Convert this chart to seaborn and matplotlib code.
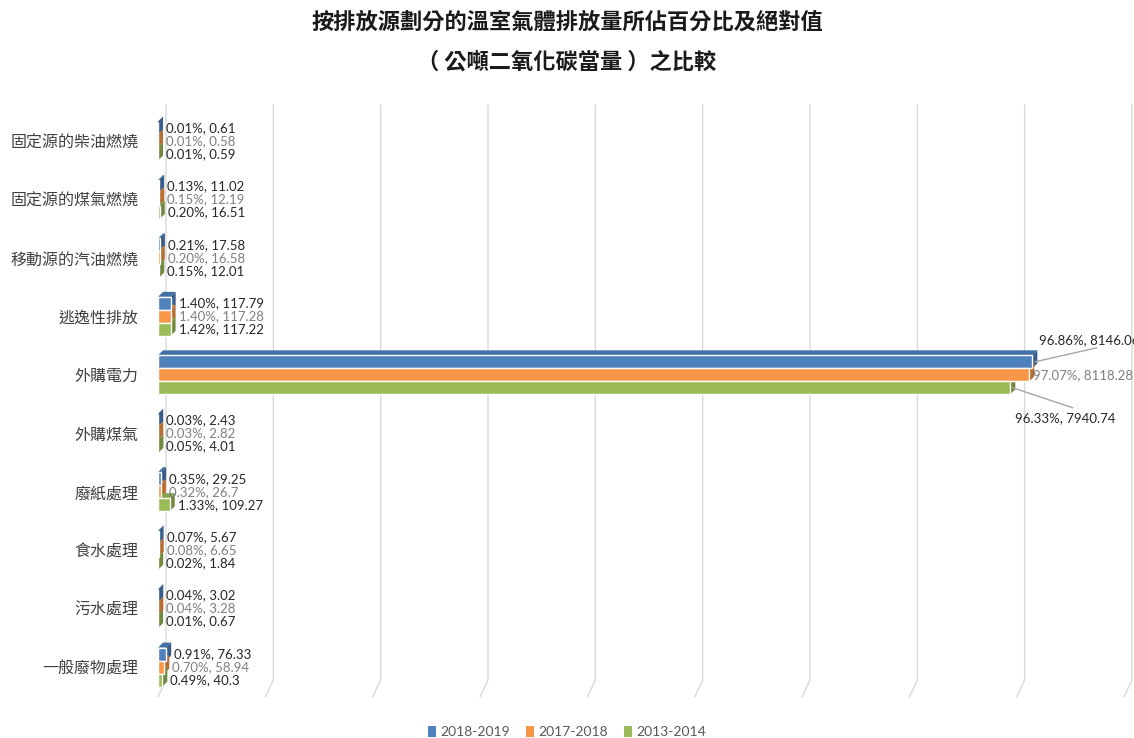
import numpy as np
import pandas as pd
import matplotlib
matplotlib.use("Agg")
import matplotlib.pyplot as plt
import seaborn as sns
from matplotlib.patches import Polygon, Patch

# --- data ---
categories = ['固定源的柴油燃燒', '固定源的煤氣燃燒', '移動源的汽油燃燒', '逃逸性排放', '外購電力',
              '外購煤氣', '廢紙處理', '食水處理', '污水處理', '一般廢物處理']
years = ['2018-2019', '2017-2018', '2013-2014']

values_1819 = [0.61, 11.02, 17.58, 117.79, 8146.06, 2.43, 29.25, 5.67, 3.02, 76.33]
values_1718 = [0.58, 12.19, 16.58, 117.28, 8118.28, 2.82, 26.7, 6.65, 3.28, 58.94]
values_1314 = [0.59, 16.51, 12.01, 117.22, 7940.74, 4.01, 109.27, 1.84, 0.67, 40.3]

pct_1819 = ['0.01%', '0.13%', '0.21%', '1.40%', '96.86%', '0.03%', '0.35%', '0.07%', '0.04%', '0.91%']
pct_1718 = ['0.01%', '0.15%', '0.20%', '1.40%', '97.07%', '0.03%', '0.32%', '0.08%', '0.04%', '0.70%']
pct_1314 = ['0.01%', '0.20%', '0.15%', '1.42%', '96.33%', '0.05%', '1.33%', '0.02%', '0.01%', '0.49%']

grid_ticks = [0, 1000, 2000, 3000, 4000, 5000, 6000, 7000, 8000, 9000]

values = [values_1819, values_1718, values_1314]
pcts = [pct_1819, pct_1718, pct_1314]

df = pd.DataFrame({
    'category': categories * 3,
    'year': [y for y in years for _ in categories],
    'value': values_1819 + values_1718 + values_1314,
})

front_colors = ['#4F81BD', '#F79646', '#9BBB59']
side_colors = ['#385D8A', '#B66D31', '#71893F']
top_colors = ['#416FA6', '#D98240', '#86A34B']
label_colors = ['#262626', '#7F7F7F', '#262626']

# --- figure ---
sns.set_theme(style="white")
plt.rcParams['font.family'] = ['Noto Sans CJK TC', 'DejaVu Sans']

fig = plt.figure(figsize=(11.34, 7.38), dpi=100)
ax_w_px, ax_h_px = 966, 592
ax = fig.add_axes([158 / 1134, 41 / 738, ax_w_px / 1134, ax_h_px / 738])

sns.barplot(data=df, x='value', y='category', hue='year', hue_order=years,
            palette=front_colors, orient='h', width=0.667, gap=0,
            saturation=1, errorbar=None, legend=False, ax=ax, zorder=3)

xmax = 9000
ytop, ybot = -0.616, 9.512
ax.set_xlim(0, xmax)
ax.set_ylim(ybot, ytop)

px_x = xmax / ax_w_px            # data units per pixel (x)
px_y = (ybot - ytop) / ax_h_px   # data units per pixel (y)

# 3D-ish gridlines: back wall + slanted floor
gdx = 8 * px_x
y_back = ybot - 17 * px_y
for t in grid_ticks:
    ax.plot([t + gdx, t + gdx, t], [ytop, y_back, ybot], color='#D9D9D9',
            lw=1, zorder=0, clip_on=False)

# bar depth faces
dx, dy = 5 * px_x, 5 * px_y
for i, cont in enumerate(ax.containers):
    for bar in cont:
        w = bar.get_width()
        y0 = bar.get_y()
        h = bar.get_height()
        top = Polygon([(0, y0), (dx, y0 - dy), (w + dx, y0 - dy), (w, y0)],
                      closed=True, facecolor=top_colors[i], edgecolor='none', zorder=2)
        side = Polygon([(w, y0), (w + dx, y0 - dy), (w + dx, y0 + h - dy), (w, y0 + h)],
                       closed=True, facecolor=side_colors[i], edgecolor='none', zorder=2)
        ax.add_patch(top)
        ax.add_patch(side)

# data labels
big = int(np.argmax(values_1819))
for i, cont in enumerate(ax.containers):
    for j, bar in enumerate(cont):
        w = bar.get_width()
        yc = bar.get_y() + bar.get_height() / 2
        txt = f"{pcts[i][j]}, {values[i][j]}"
        kw = dict(fontsize=9.5, family=['Lato', 'DejaVu Sans'], color=label_colors[i],
                  va='center', ha='left', textcoords='offset pixels', zorder=5,
                  annotation_clip=False)
        if j == big and i == 0:
            ax.annotate(txt, xy=(w + dx / 2, yc), xytext=(4, 22), **kw)
            ax.annotate('', xy=(w + dx / 2, yc), xytext=(62, 14), textcoords='offset pixels',
                        arrowprops=dict(arrowstyle='-', color='#A6A6A6', lw=1,
                                        shrinkA=0, shrinkB=0), annotation_clip=False)
        elif j == big and i == 1:
            ax.annotate(txt, xy=(w, yc), xytext=(4, 0), **kw)
        elif j == big and i == 2:
            ax.annotate(txt, xy=(w, yc), xytext=(5, -30), **kw)
            ax.annotate('', xy=(w + dx / 2, yc), xytext=(60, -20), textcoords='offset pixels',
                        arrowprops=dict(arrowstyle='-', color='#A6A6A6', lw=1,
                                        shrinkA=0, shrinkB=0), annotation_clip=False)
        else:
            ax.annotate(txt, xy=(w, yc), xytext=(8, 0), **kw)

ax.set_xlabel('')
ax.set_ylabel('')
ax.set_xticks([])
ax.tick_params(axis='y', length=0, pad=14, labelsize=11.5, labelcolor='#404040')
for s in ax.spines.values():
    s.set_visible(False)

# title
fig.text(0.5, 1 - 22 / 738, '按排放源劃分的溫室氣體排放量所佔百分比及絕對值',
         ha='center', va='center', fontsize=16, fontweight='bold', color='#1A1A1A')
fig.text(0.5, 1 - 62 / 738, '（ 公噸二氧化碳當量 ）之比較',
         ha='center', va='center', fontsize=16, fontweight='bold', color='#1A1A1A')

# legend
handles = [Patch(facecolor=c, edgecolor='none') for c in front_colors]
fig.legend(handles, years, loc='center', bbox_to_anchor=(0.5, 1 - 732 / 738), ncol=3,
           frameon=False, handlelength=0.55, handleheight=0.9, handletextpad=0.3,
           columnspacing=1.2, prop={'family': ['Lato', 'DejaVu Sans'], 'size': 10},
           labelcolor='#595959')

fig.savefig('out.png', dpi=100)
